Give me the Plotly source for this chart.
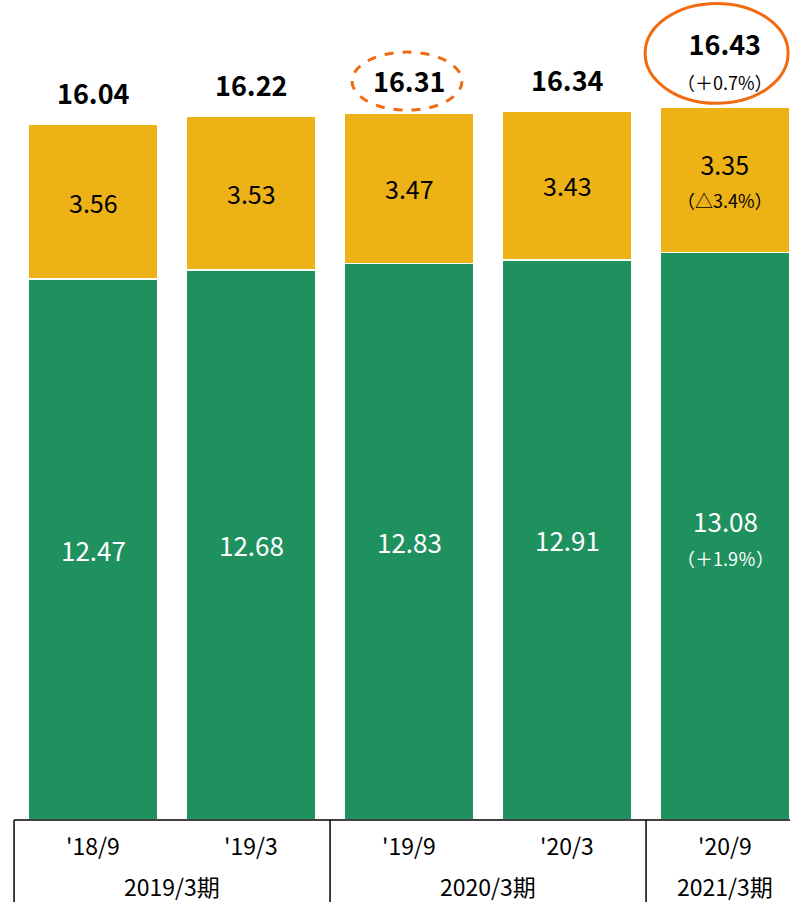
import plotly.graph_objects as go

periods = ["'18/9", "'19/3", "'19/9", "'20/3", "'20/9"]
fiscal_groups = ["2019/3期", "2020/3期", "2021/3期"]
group_members = [[0, 1], [2, 3], [4]]
green_vals = [12.47, 12.68, 12.83, 12.91, 13.08]
yellow_vals = [3.56, 3.53, 3.47, 3.43, 3.35]
totals = [16.04, 16.22, 16.31, 16.34, 16.43]
green_pct = ["", "", "", "", "（＋1.9％）"]
yellow_pct = ["", "", "", "", "（△3.4%）"]
total_pct = ["", "", "", "", "（＋0.7%）"]

GREEN = "#1F915F"
YELLOW = "#EDB316"
ORANGE = "#F26A10"
FONT = "Noto Sans CJK JP"

x = list(range(len(periods)))
XR = [-0.589, 4.411]
YR = [0, 18.9]

fig = go.Figure()
fig.add_bar(x=x, y=green_vals, marker=dict(color=GREEN, line=dict(color="white", width=1.5)),
            width=0.823, hoverinfo="skip")
fig.add_bar(x=x, y=yellow_vals, marker=dict(color=YELLOW, line=dict(color="white", width=1.5)),
            width=0.823, hoverinfo="skip")

ann = []
for i in x:
    g, yv, t = green_vals[i], yellow_vals[i], totals[i]
    gt = f"{g:.2f}"
    if green_pct[i]:
        gt += f"<br><span style='font-size:18px'>{green_pct[i]}</span>"
    ann.append(dict(x=i, y=g / 2, xref="x", yref="y", text=gt, showarrow=False,
                    font=dict(family=FONT, size=26, color="white")))
    yt = f"{yv:.2f}"
    if yellow_pct[i]:
        yt += f"<br><span style='font-size:18px'>{yellow_pct[i]}</span>"
    ann.append(dict(x=i, y=g + yv / 2, xref="x", yref="y", text=yt, showarrow=False,
                    font=dict(family=FONT, size=25, color="black")))
    tt = f"<b>{t:.2f}</b>"
    if total_pct[i]:
        tt += f"<br><span style='font-size:18px'>{total_pct[i]}</span>"
    ann.append(dict(x=i, y=t, xref="x", yref="y", text=tt, showarrow=False, yanchor="bottom",
                    yshift=10, font=dict(family=FONT, size=27, color="black")))
    ann.append(dict(x=i, y=0, xref="x", yref="paper", text=periods[i], showarrow=False,
                    yanchor="middle", yshift=-25, font=dict(family=FONT, size=23, color="black")))

for gname, mem in zip(fiscal_groups, group_members):
    cx = sum(mem) / len(mem)
    ann.append(dict(x=cx, y=0, xref="x", yref="paper", text=gname, showarrow=False,
                    yanchor="middle", yshift=-66, font=dict(family=FONT, size=23, color="black")))

shapes = []
shapes.append(dict(type="line", xref="x", yref="paper", x0=-0.5, x1=XR[1] + 0.2, y0=0, y1=0,
                   line=dict(color="black", width=1.5)))
seps = [-0.5] + [mem[-1] + 0.5 for mem in group_members[:-1]]
for s in seps:
    shapes.append(dict(type="line", xref="x", yref="paper", x0=s, x1=s, y0=0, y1=-0.12,
                       line=dict(color="black", width=1.5)))
shapes.append(dict(type="circle", xref="x", yref="y", x0=1.639, x1=2.335, y0=16.36, y1=17.70,
                   line=dict(color=ORANGE, width=3, dash="dash")))
shapes.append(dict(type="circle", xref="x", yref="y", x0=3.494, x1=4.399, y0=16.52, y1=18.82,
                   line=dict(color=ORANGE, width=3)))

fig.update_layout(
    barmode="stack", width=790, height=902, showlegend=False,
    margin=dict(l=0, r=0, t=0, b=82),
    plot_bgcolor="white", paper_bgcolor="white",
    xaxis=dict(range=XR, visible=False),
    yaxis=dict(range=YR, visible=False),
    annotations=ann, shapes=shapes,
)
fig.write_html("out.html", config={"displayModeBar": False},
               post_script="document.body.style.margin='0';document.body.style.overflow='hidden';")
